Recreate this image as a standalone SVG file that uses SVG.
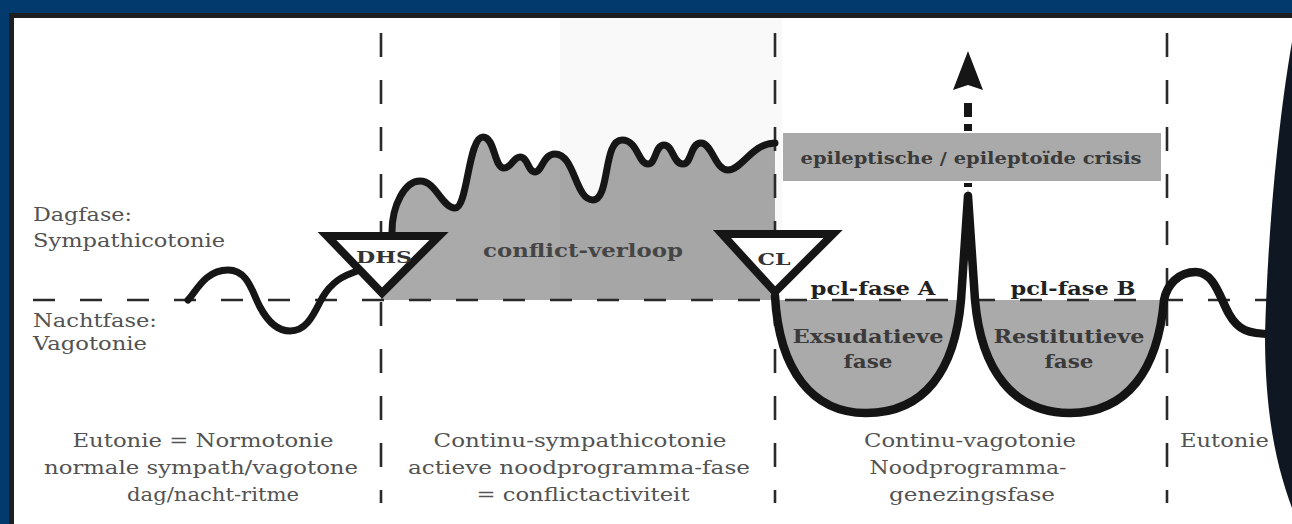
<svg xmlns="http://www.w3.org/2000/svg" width="1292" height="524" viewBox="0 0 1292 524">
<defs>
<style>
.t{font-family:"DejaVu Serif","Liberation Serif",serif;fill:#525252;font-size:19px}
.l{font-family:"DejaVu Serif","Liberation Serif",serif;fill:#525252;font-size:18px}
.b{font-family:"DejaVu Serif","Liberation Serif",serif;font-weight:bold;fill:#333;font-size:18px}
.vd{stroke:#2a2a2a;stroke-width:2.6;fill:none;stroke-dasharray:24 23}
.hd{stroke:#2a2a2a;stroke-width:2.6;fill:none;stroke-dasharray:22 25}
.wave{fill:none;stroke:#161616;stroke-width:7;stroke-linecap:round;stroke-linejoin:round}
.ucurve{fill:none;stroke:#141414;stroke-width:8.5;stroke-linecap:round;stroke-linejoin:round}
.gray{fill:#aaaaaa}
.tri{fill:#fff;stroke:#161616;stroke-width:8;stroke-linejoin:miter;stroke-miterlimit:10}
</style>
</defs>

<g id="frame">
<rect width="1292" height="524" fill="#033a6e"/>
<rect x="9" y="13" width="1283" height="511" fill="#1e1e1e"/>
<rect x="14" y="18" width="1278" height="506" fill="#ffffff"/>
</g>

<g id="fills">
<path class="gray" d="M381,300 L381,240 L392,232 C392,205 405,181 420,181 C436,181 442,208 455,208 C468,208 468,137 483,137 C495,137 494,168 504,168 C512,168 513,157 520,157 C528,157 528,172 535,172 C542,172 543,154 555,154 C575,154 575,200 593,200 C610,200 603,140 622,140 C638,140 638,164 648,164 C656,164 655,145 664,145 C673,145 673,164 683,164 C692,164 690,143 701,143 C712,143 715,170 728,170 C742,170 752,143 775,143 L775,300 Z"/>
<path class="gray" d="M775,300 C779,370 812,413 866,413 C925,413 955,370 961,300 Z"/>
<path class="gray" d="M975,300 C981,370 1013,413 1070,413 C1127,413 1158,370 1164,300 Z"/>
<rect x="560" y="18" width="222" height="282" fill="#000" opacity="0.022"/>
</g>

<g id="connectors">
<line class="hd" x1="33" y1="300" x2="1280" y2="300"/>
<path class="vd" d="M381,33 V300 M381,302 V503"/>
<path class="vd" d="M775,33 V300 M775,302 V503"/>
<path class="vd" d="M1167,33 V300 M1167,302 V503"/>
</g>

<g id="labels-left">
<text class="l" x="33" y="221" textLength="99" lengthAdjust="spacingAndGlyphs">Dagfase:</text>
<text class="l" x="33" y="247" textLength="192" lengthAdjust="spacingAndGlyphs">Sympathicotonie</text>
<text class="l" x="33" y="327" textLength="124" lengthAdjust="spacingAndGlyphs">Nachtfase:</text>
<text class="l" x="33" y="350" textLength="114" lengthAdjust="spacingAndGlyphs">Vagotonie</text>
</g>

<g id="conflict-curve">
<path class="wave" d="M188,300 C196,292 205,270 228,270 C248,270 252,292 260,307 C268,322 278,331 290,331 C305,331 312,318 320,302 C328,286 338,278 352,273 C372,266 392,252 392,232 C392,205 405,181 420,181 C436,181 442,208 455,208 C468,208 468,137 483,137 C495,137 494,168 504,168 C512,168 513,157 520,157 C528,157 528,172 535,172 C542,172 543,154 555,154 C575,154 575,200 593,200 C610,200 603,140 622,140 C638,140 638,164 648,164 C656,164 655,145 664,145 C673,145 673,164 683,164 C692,164 690,143 701,143 C712,143 715,170 728,170 C742,170 752,143 775,143"/>
<text class="b" x="583" y="257" text-anchor="middle" textLength="200" lengthAdjust="spacingAndGlyphs" style="fill:#454545">conflict-verloop</text>
</g>

<g id="healing-curve">
<path class="ucurve" d="M775,296 C779,370 812,413 866,413 C925,413 955,370 961,300 L968,196 L975,300 C981,370 1013,413 1070,413 C1127,413 1158,370 1164,300 C1167,285 1178,272 1196,272 C1214,272 1220,298 1229,314 C1238,330 1248,334 1272,334"/>
<polygon points="963.5,240 968,189 972.5,240" fill="#141414"/>
</g>

<g id="dhs">
<polygon class="tri" points="327,236 439,236 382,293"/>
<text class="b" x="384" y="263" text-anchor="middle" style="font-size:17px" textLength="56" lengthAdjust="spacingAndGlyphs">DHS</text>
</g>

<g id="cl">
<polygon class="tri" points="722,234 833,234 775,292"/>
<text class="b" x="774" y="265" text-anchor="middle" style="font-size:17px" textLength="33" lengthAdjust="spacingAndGlyphs">CL</text>
</g>

<g id="crisis">
<rect x="964" y="103" width="8" height="14" fill="#161616"/>
<rect x="964" y="124" width="8" height="7" fill="#161616"/>
<rect x="964" y="183" width="8" height="4" fill="#161616"/>
<polygon points="968,51 983,90 968,85 953,90" fill="#161616"/>
<rect x="783" y="133" width="378" height="48" fill="#aaaaaa"/>
<text class="b" x="971" y="164" text-anchor="middle" style="font-size:16px;fill:#3a3a3a" textLength="341" lengthAdjust="spacingAndGlyphs">epileptische / epileptoïde crisis</text>
</g>

<g id="pcl-a">
<text class="b" x="873" y="295" text-anchor="middle" style="font-size:19px;fill:#222" textLength="125" lengthAdjust="spacingAndGlyphs">pcl-fase A</text>
<text class="b" x="868" y="343" text-anchor="middle" style="font-size:19px;fill:#3a3a3a" textLength="151" lengthAdjust="spacingAndGlyphs">Exsudatieve</text>
<text class="b" x="868" y="368" text-anchor="middle" style="font-size:19px;fill:#3a3a3a" textLength="49" lengthAdjust="spacingAndGlyphs">fase</text>
</g>

<g id="pcl-b">
<text class="b" x="1073" y="295" text-anchor="middle" style="font-size:19px;fill:#222" textLength="125" lengthAdjust="spacingAndGlyphs">pcl-fase B</text>
<text class="b" x="1069" y="343" text-anchor="middle" style="font-size:19px;fill:#3a3a3a" textLength="151" lengthAdjust="spacingAndGlyphs">Restitutieve</text>
<text class="b" x="1069" y="368" text-anchor="middle" style="font-size:19px;fill:#3a3a3a" textLength="49" lengthAdjust="spacingAndGlyphs">fase</text>
</g>

<g id="phase-1">
<text class="t" x="203" y="447" text-anchor="middle" textLength="261" lengthAdjust="spacingAndGlyphs">Eutonie = Normotonie</text>
<text class="t" x="201" y="474" text-anchor="middle" textLength="314" lengthAdjust="spacingAndGlyphs">normale sympath/vagotone</text>
<text class="t" x="213" y="501" text-anchor="middle" textLength="172" lengthAdjust="spacingAndGlyphs">dag/nacht-ritme</text>
</g>

<g id="phase-2">
<text class="t" x="580" y="447" text-anchor="middle" textLength="293" lengthAdjust="spacingAndGlyphs">Continu-sympathicotonie</text>
<text class="t" x="579" y="474" text-anchor="middle" textLength="342" lengthAdjust="spacingAndGlyphs">actieve noodprogramma-fase</text>
<text class="t" x="583" y="501" text-anchor="middle" textLength="213" lengthAdjust="spacingAndGlyphs">= conflictactiviteit</text>
</g>

<g id="phase-3">
<text class="t" x="970" y="447" text-anchor="middle" textLength="212" lengthAdjust="spacingAndGlyphs">Continu-vagotonie</text>
<text class="t" x="968" y="474" text-anchor="middle" textLength="197" lengthAdjust="spacingAndGlyphs">Noodprogramma-</text>
<text class="t" x="972" y="501" text-anchor="middle" textLength="166" lengthAdjust="spacingAndGlyphs">genezingsfase</text>
</g>

<g id="phase-4">
<text class="t" x="1180" y="447" textLength="89" lengthAdjust="spacingAndGlyphs">Eutonie</text>
</g>

<g id="edge-shape">
<path d="M1292,42 C1280,110 1268,220 1265,335 C1265,420 1278,470 1292,508 Z" fill="#0e1722"/>
</g>
</svg>
